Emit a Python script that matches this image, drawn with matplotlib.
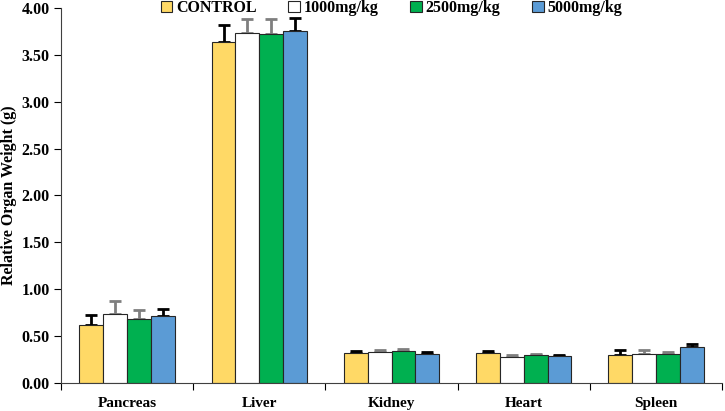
import matplotlib
matplotlib.use("Agg")
import matplotlib.pyplot as plt
import numpy as np

categories = ["Pancreas", "Liver", "Kidney", "Heart", "Spleen"]
series_names = ["CONTROL", "1000mg/kg", "2500mg/kg", "5000mg/kg"]
control = [0.62, 3.64, 0.32, 0.32, 0.30]
dose1000 = [0.74, 3.73, 0.33, 0.28, 0.31]
dose2500 = [0.68, 3.72, 0.34, 0.295, 0.31]
dose5000 = [0.72, 3.75, 0.31, 0.285, 0.387]
err_control = [0.11, 0.18, 0.02, 0.025, 0.05]
err_1000 = [0.13, 0.15, 0.02, 0.02, 0.045]
err_2500 = [0.10, 0.16, 0.02, 0.02, 0.02]
err_5000 = [0.07, 0.14, 0.02, 0.015, 0.025]
yticks = [0.0, 0.5, 1.0, 1.5, 2.0, 2.5, 3.0, 3.5, 4.0]

colors = ["#FFD966", "#FFFFFF", "#00B050", "#5B9BD5"]
err_colors = ["#000000", "#7F7F7F", "#7F7F7F", "#000000"]

plt.rcParams['font.family'] = ['Liberation Serif', 'DejaVu Serif']
plt.rcParams['font.weight'] = 'bold'

fig = plt.figure(figsize=(7.25, 4.11), dpi=100)
ax = fig.add_axes([0.084, 0.068, 0.912, 0.913])

values = [control, dose1000, dose2500, dose5000]
errs = [err_control, err_1000, err_2500, err_5000]
x = np.arange(len(categories))
n = len(values)
bw = 0.18
for i in range(n):
    pos = x + (i - (n - 1) / 2) * bw
    ax.bar(pos, values[i], width=bw, color=colors[i], edgecolor="#262626",
           linewidth=0.8, label=series_names[i], zorder=2)
    ax.errorbar(pos, values[i], yerr=[np.zeros(len(categories)), errs[i]],
                fmt='none', ecolor=err_colors[i], elinewidth=2, capsize=4,
                capthick=2, zorder=1)

ax.set_xlim(-0.5, len(categories) - 0.5)
ax.set_ylim(0, 4.0)
ax.set_yticks(yticks)
ax.set_yticklabels([f"{v:.2f}" for v in yticks], fontsize=11.5, fontweight='bold')
ax.set_xticks(np.arange(-0.5, len(categories), 1.0))
ax.set_xticklabels([])
ax.set_xticks(x, minor=True)
ax.set_xticklabels(categories, minor=True, fontsize=11, fontweight='bold')
ax.tick_params(axis='x', which='minor', length=0, pad=10)
ax.tick_params(axis='x', which='major', length=5, direction='out')
ax.tick_params(axis='y', length=5, direction='out', pad=3)
for s in ['top', 'right']:
    ax.spines[s].set_visible(False)
ax.spines['left'].set_color('#404040')
ax.spines['bottom'].set_color('#404040')
ax.set_ylabel("Relative Organ Weight (g)", fontsize=11.5, fontweight='bold', labelpad=3)

leg = ax.legend(loc='upper center', bbox_to_anchor=(0.5, 1.02), ncol=4, frameon=False,
                fontsize=11.5, handlelength=0.7, handleheight=0.7, handletextpad=0.25,
                columnspacing=2.0, borderaxespad=0, borderpad=0)
for t in leg.get_texts():
    t.set_fontweight('bold')

fig.savefig("out.png", dpi=100)
